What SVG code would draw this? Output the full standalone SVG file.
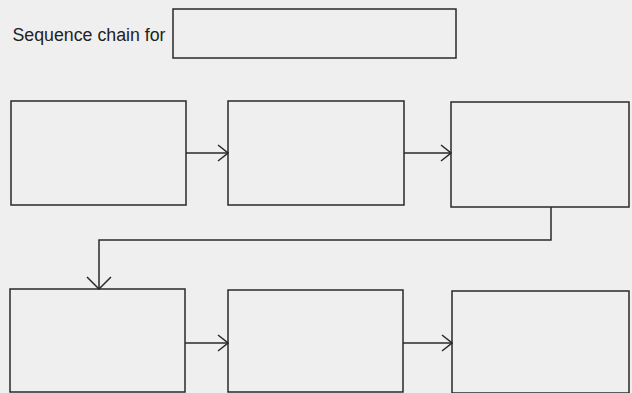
<svg xmlns="http://www.w3.org/2000/svg" width="632" height="393" viewBox="0 0 632 393">
<style>
.box{fill:none;stroke:#2a2a2a;stroke-width:1.5}
.con{fill:none;stroke:#2a2a2a;stroke-width:1.5}
.lbl{font-family:"Liberation Sans",Arial,sans-serif;font-size:18px;fill:#222}
</style>
<defs>
<marker id="arr" markerWidth="12" markerHeight="18" refX="11" refY="9" orient="auto" markerUnits="userSpaceOnUse">
<path d="M1,1 L11,9 L1,17" fill="none" stroke="#2a2a2a" stroke-width="1.5"/>
</marker>
<marker id="arrWide" markerWidth="14" markerHeight="26" refX="13" refY="13" orient="auto" markerUnits="userSpaceOnUse">
<path d="M1,1 L13,13 L1,25" fill="none" stroke="#2a2a2a" stroke-width="1.5"/>
</marker>
</defs>
<rect width="632" height="393" fill="#efefef"/>
<g id="title">
<text class="lbl" x="12.5" y="41" textLength="153" lengthAdjust="spacingAndGlyphs">Sequence chain for</text>
<rect class="box" x="173" y="9" width="283" height="49"/>
</g>
<g id="n1"><rect class="box" x="11" y="101" width="175" height="104"/></g>
<g id="n2"><rect class="box" x="228" y="101" width="176" height="104"/></g>
<g id="n3"><rect class="box" x="451" y="102" width="178" height="105"/></g>
<g id="n4"><rect class="box" x="10" y="289" width="175" height="103"/></g>
<g id="n5"><rect class="box" x="228" y="290" width="175" height="102"/></g>
<g id="n6"><rect class="box" x="452" y="291" width="177" height="102"/></g>
<g id="connectors">
<line class="con" x1="186" y1="153" x2="228" y2="153" marker-end="url(#arr)"/>
<line class="con" x1="404" y1="153" x2="451" y2="153" marker-end="url(#arr)"/>
<polyline class="con" points="551,207 551,240 99,240 99,289" marker-end="url(#arrWide)"/>
<line class="con" x1="185" y1="343" x2="228" y2="343" marker-end="url(#arr)"/>
<line class="con" x1="403" y1="343" x2="452" y2="343" marker-end="url(#arr)"/>
</g>
</svg>
